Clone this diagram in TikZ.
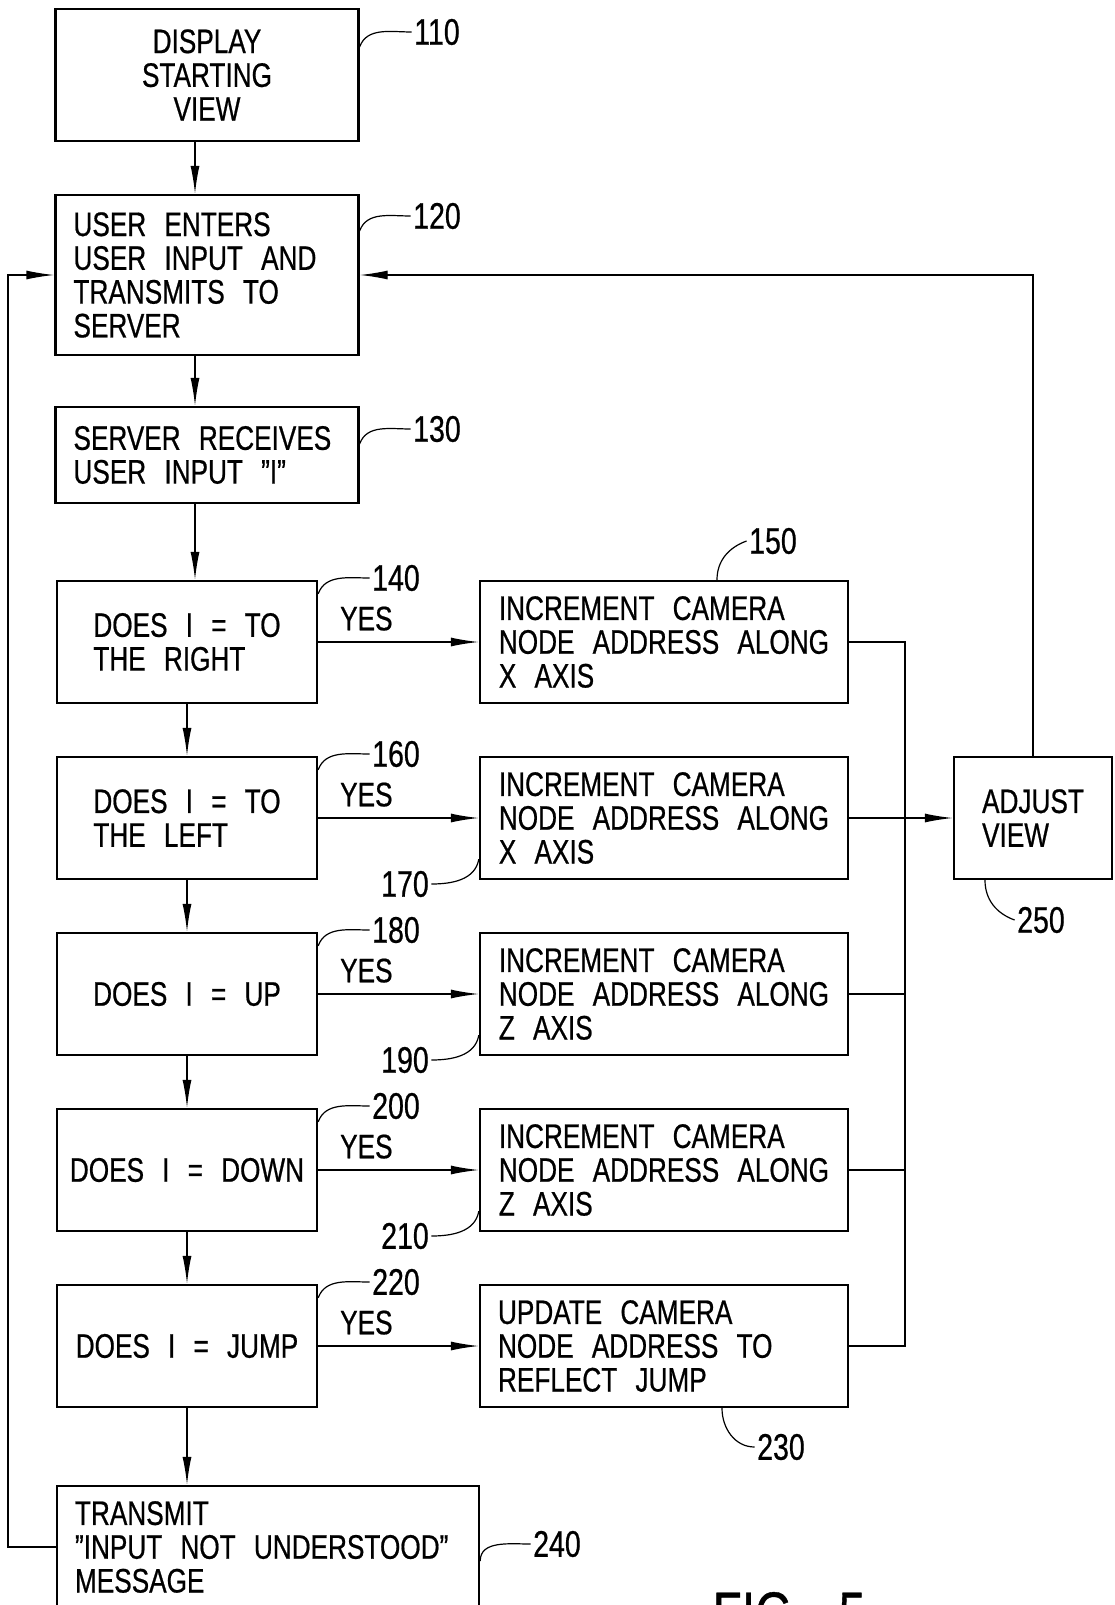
\documentclass[tikz,border=0pt]{standalone}
\usepackage{fontspec}
\setmainfont{Liberation Sans}[FakeStretch=0.77,WordSpace=2.5,FakeBold=0.6]
\usetikzlibrary{arrows.meta}

\tikzset{
  >={Latex[length=14pt,width=4.5pt]},
  box/.style={draw, line width=1.2pt, align=left, inner sep=0pt,
    font=\fontsize{17pt}{16.9pt}\selectfont},
  flush/.style={text width=#1, execute at begin node={\spaceskip=9.1pt\relax}},
  test/.style={box, minimum width=130pt, minimum height=61pt},
  act/.style={box, minimum width=184pt, minimum height=61pt},
  yes/.style={above=2pt, pos=0.3, font=\fontsize{17pt}{17pt}\selectfont},
  num/.style={inner sep=1pt, font=\fontsize{18.5pt}{18.5pt}\selectfont},
  lead/.style={line width=0.6pt},
}

\begin{document}
\begin{tikzpicture}[x=0.5pt, y=-0.5pt, line width=0.7pt]
  \useasboundingbox (0,0) rectangle (1114,1605);

  % left column
  \node[box, align=center, minimum width=151.5pt, minimum height=66pt] (n110) at (207,75) {DISPLAY\\STARTING\\VIEW};
  \node[box, flush=133.5pt, minimum width=151.5pt, minimum height=80pt] (n120) at (207,275) {USER ENTERS\\USER INPUT AND\\TRANSMITS TO\\SERVER};
  \node[box, flush=133.5pt, minimum width=151.5pt, minimum height=48pt] (n130) at (207,455) {SERVER RECEIVES\\USER INPUT ”I”};
  \node[test] (n140) at (187,642) {DOES I = TO\\THE RIGHT};
  \node[test] (n160) at (187,818) {DOES I = TO\\THE LEFT};
  \node[test] (n180) at (187,994) {DOES I = UP};
  \node[test] (n200) at (187,1170) {DOES I = DOWN};
  \node[test] (n220) at (187,1346) {DOES I = JUMP};
  \node[box, flush=193pt, minimum width=211pt, minimum height=61pt] (n240) at (268,1547) {TRANSMIT\\”INPUT NOT UNDERSTOOD”\\MESSAGE};

  % right column
  \node[act] (n150) at (664,642) {INCREMENT CAMERA\\NODE ADDRESS ALONG\\X AXIS};
  \node[act] (n170) at (664,818) {INCREMENT CAMERA\\NODE ADDRESS ALONG\\X AXIS};
  \node[act] (n190) at (664,994) {INCREMENT CAMERA\\NODE ADDRESS ALONG\\Z AXIS};
  \node[act] (n210) at (664,1170) {INCREMENT CAMERA\\NODE ADDRESS ALONG\\Z AXIS};
  \node[act, flush=166pt] (n230) at (664,1346) {UPDATE CAMERA\\NODE ADDRESS TO\\REFLECT JUMP};
  \node[box, minimum width=79pt, minimum height=61pt] (n250) at (1033,818) {ADJUST\\VIEW};

  % main flow
  \draw[->] ([xshift=-6pt]n110.south) -- ([xshift=-6pt]n120.north);
  \draw[->] ([xshift=-6pt]n120.south) -- ([xshift=-6pt]n130.north);
  \draw[->] ([xshift=-6pt]n130.south) -- ([xshift=4pt]n140.north);
  \draw[->] (n140) -- (n160);
  \draw[->] (n160) -- (n180);
  \draw[->] (n180) -- (n200);
  \draw[->] (n200) -- (n220);
  \draw[->] (n220.south) -- (n220.south |- n240.north);

  % yes branches
  \draw[->] (n140) -- node[yes] {YES} (n150);
  \draw[->] (n160) -- node[yes] {YES} (n170);
  \draw[->] (n180) -- node[yes] {YES} (n190);
  \draw[->] (n200) -- node[yes] {YES} (n210);
  \draw[->] (n220) -- node[yes] {YES} (n230);

  % collector and loops
  \coordinate (bus) at (905,642);
  \draw (n150.east) -| (bus |- n230.east) -- (n230.east);
  \draw (n190.east) -- (n190.east -| bus);
  \draw (n210.east) -- (n210.east -| bus);
  \draw[->] (n170) -- (n250);
  \draw[->] (n250.north) |- (n120.east);
  \draw[->] (n240.west) -- ++(-48,0) |- (n120.west);

  % reference numbers
  \node[num] (l110) at (437,32) {110};
  \node[num] (l120) at (437,216) {120};
  \node[num] (l130) at (437,429) {130};
  \node[num] (l140) at (396,578) {140};
  \node[num] (l150) at (773,541) {150};
  \node[num] (l160) at (396,754) {160};
  \node[num] (l170) at (405,884) {170};
  \node[num] (l180) at (396,930) {180};
  \node[num] (l190) at (405,1060) {190};
  \node[num] (l200) at (396,1106) {200};
  \node[num] (l210) at (405,1236) {210};
  \node[num] (l220) at (396,1282) {220};
  \node[num] (l230) at (781,1447) {230};
  \node[num] (l240) at (557,1544) {240};
  \node[num] (l250) at (1041,920) {250};

  \draw[lead] ([yshift=-19.5pt]n110.north east) to[out=70,in=180] (l110.west);
  \draw[lead] ([yshift=-18.5pt]n120.north east) to[out=70,in=180] (l120.west);
  \draw[lead] ([yshift=-19pt]n130.north east) to[out=70,in=180] (l130.west);
  \draw[lead] ([yshift=-7pt]n140.north east) to[out=70,in=180] (l140.west);
  \draw[lead] ([yshift=-7pt]n160.north east) to[out=70,in=180] (l160.west);
  \draw[lead] ([yshift=-7pt]n180.north east) to[out=70,in=180] (l180.west);
  \draw[lead] ([yshift=-7pt]n200.north east) to[out=70,in=180] (l200.west);
  \draw[lead] ([yshift=-7pt]n220.north east) to[out=70,in=180] (l220.west);
  \draw[lead] ([xshift=26.5pt]n150.north) to[out=90,in=200] (l150.west);
  \draw[lead] (l170.east) to[out=0,in=-100] ([yshift=10.5pt]n170.south west);
  \draw[lead] (l190.east) to[out=0,in=-100] ([yshift=10.5pt]n190.south west);
  \draw[lead] (l210.east) to[out=0,in=-100] ([yshift=10.5pt]n210.south west);
  \draw[lead] ([xshift=29pt]n230.south) to[out=-90,in=180] (l230.west);
  \draw[lead] ([yshift=-7pt]n240.east) to[out=90,in=180] (l240.west);
  \draw[lead] ([xshift=-24pt]n250.south) to[out=-90,in=160] (l250.west);

  \node[font=\fontsize{31pt}{31pt}\selectfont] (fig) at (789,1614) {FIG. 5};
\end{tikzpicture}
\end{document}
